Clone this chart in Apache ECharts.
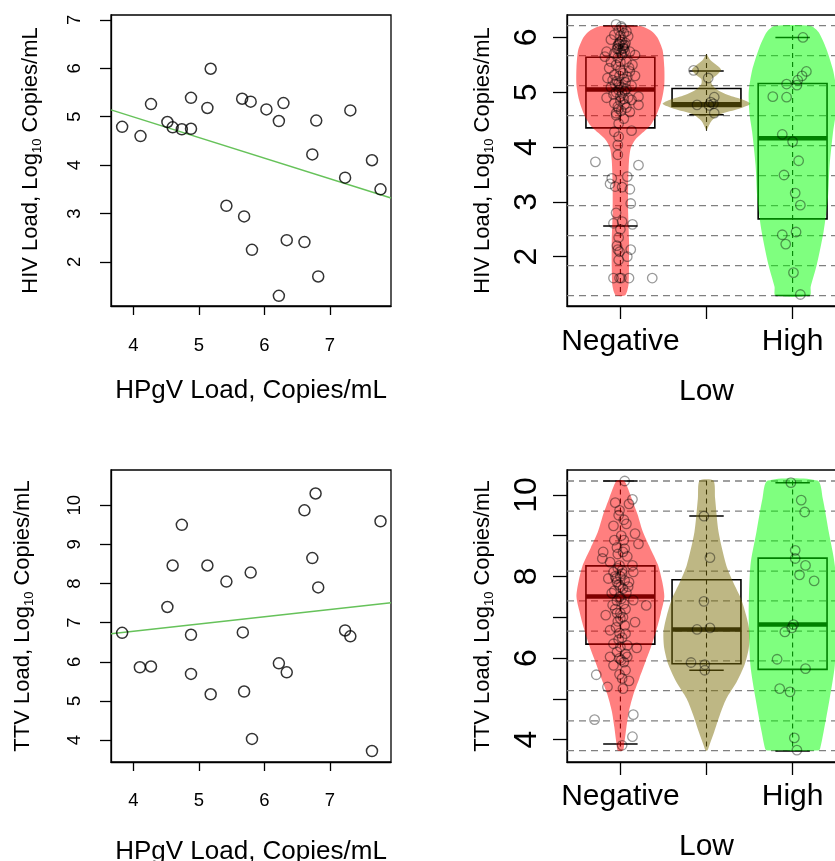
<!DOCTYPE html>
<html><head><meta charset="utf-8">
<script src="https://cdn.jsdelivr.net/npm/echarts@6/dist/echarts.min.js"></script>
<style>html,body{margin:0;padding:0;background:#fff}#c{width:835px;height:861px}</style>
</head><body><div id="c"></div><script>
// ---------------- data ----------------
const groups = ['Negative', 'Low', 'High'];

// HPgV load vs HIV load (x, y)
const hpgvHiv = [[3.83,4.79],[4.11,4.60],[4.27,5.26],[4.52,4.89],[4.60,4.78],[4.74,4.74],[4.88,4.75],[4.88,5.39],
  [5.13,5.18],[5.18,5.99],[5.42,3.16],[5.66,5.37],[5.79,5.31],[5.69,2.94],[5.81,2.25],[6.03,5.15],[6.29,5.28],
  [6.22,4.91],[6.34,2.45],[6.22,1.30],[6.61,2.41],[6.79,4.92],[6.73,4.22],[6.82,1.70],[7.23,3.74],[7.31,5.13],
  [7.64,4.10],[7.77,3.50]];
// HPgV load vs TTV load (x, y)
const hpgvTtv = [[3.83,6.74],[4.10,5.86],[4.27,5.88],[4.52,7.40],[4.60,8.46],[4.74,9.50],[4.88,6.69],[4.88,5.69],
  [5.13,8.46],[5.18,5.17],[5.42,8.05],[5.67,6.75],[5.79,8.28],[5.69,5.24],[5.81,4.03],[6.22,5.96],[6.34,5.73],
  [6.61,9.87],[6.78,10.30],[6.73,8.65],[6.82,7.90],[7.23,6.80],[7.31,6.65],[7.64,3.72],[7.77,9.59]];
// fitted regression lines [intercept, slope]
const hivFit = [6.70, -0.426];
const ttvFit = [6.04, 0.185];

// jittered points by group: [jittered group position, value]
const hivNegPts = [[0.95,6.24],[1.02,6.17],[1.07,6.11],[0.93,6.05],[1.00,6.03],[1.09,6.02],[0.89,5.96],[0.98,5.89],
  [1.05,5.86],[0.97,5.80],[1.04,5.80],[0.84,5.74],[0.93,5.71],[1.11,5.74],[1.02,5.68],[1.17,5.68],[0.82,5.65],
  [0.97,5.63],[0.89,5.56],[1.07,5.56],[1.14,5.50],[0.87,5.44],[1.00,5.41],[1.11,5.38],[0.93,5.32],[1.17,5.30],
  [0.85,5.26],[1.04,5.24],[0.98,5.16],[1.13,5.12],[0.89,5.09],[1.07,5.06],[0.95,5.00],[1.00,4.92],[1.21,4.92],
  [0.84,4.90],[1.13,4.86],[0.93,4.80],[1.05,4.78],[1.21,4.77],[0.98,4.70],[1.11,4.64],[0.95,4.58],[1.04,4.52],
  [0.98,4.43],[1.13,4.30],[0.93,4.28],[0.98,4.19],[0.97,4.04],[0.97,3.86],
  [1.00,5.92],[1.03,5.85],[0.99,5.77],[1.05,5.75],[0.97,5.85],[1.02,5.95],[1.01,5.72],[0.96,5.79],[1.06,5.90],
  [1.04,6.08],[0.98,6.13],[1.01,6.20],[1.03,5.80],[0.99,5.88],[0.99,5.30],[1.03,5.35],[0.96,5.20],[1.06,5.18],
  [1.01,5.10],[0.94,5.14],[1.08,5.28],[0.98,5.04],[1.02,4.98],[1.05,5.02],[0.92,4.96],[1.00,4.84],[1.04,4.88],
  [0.97,4.74],[1.07,4.72],[1.01,4.66],[0.95,4.62],[1.09,4.90],[0.91,5.22],[1.10,5.45],[0.95,5.50],[1.00,5.55],
  [0.71,3.73],[1.21,3.67],[0.90,3.43],[1.08,3.46],[0.88,3.33],[0.94,3.28],[1.02,3.27],[1.11,3.23],[1.12,2.97],
  [0.95,2.80],[0.92,2.61],[1.02,2.64],[1.14,2.59],[0.98,2.35],[0.97,2.13],[0.99,2.09],[1.12,2.13],[1.08,2.00],
  [0.98,1.94],[0.92,1.61],[0.99,1.61],[1.01,1.61],[1.10,1.61],[1.37,1.61],[1.00,2.50],[0.96,2.20]];
const hivLowPts = [[1.85,5.40],[2.02,5.26],[2.09,4.91],[1.89,4.77],[2.05,4.82],[2.03,4.76],[2.08,4.79],[2.09,4.62]];
const hivHighPts = [[3.12,6.00],[3.16,5.38],[3.11,5.30],[3.06,5.22],[3.05,5.13],[2.93,5.15],[2.77,4.92],[2.93,4.91],
  [2.88,4.23],[3.00,4.10],[3.07,3.75],[2.90,3.49],[3.03,3.16],[3.09,2.94],[3.04,2.45],[2.88,2.40],[2.92,2.23],
  [3.01,1.71],[3.09,1.31]];

const ttvNegPts = [[1.05,10.34],[1.14,9.89],[0.94,9.81],[1.10,9.78],[0.99,9.62],[1.04,9.39],[0.92,9.24],[1.07,9.29],
  [1.17,9.05],[1.21,8.80],[0.93,8.89],[1.04,8.89],[0.96,8.71],[1.05,8.68],[0.80,8.60],[0.79,8.44],[0.88,8.35],
  [1.08,8.49],[0.99,8.27],[1.14,8.27],[0.92,8.11],[1.02,8.07],[1.15,8.11],[0.86,7.95],[0.96,7.86],[1.10,7.86],
  [0.90,7.59],[1.00,7.74],[1.15,7.42],[1.30,7.29],[1.04,7.33],[0.83,7.05],[0.96,7.10],[1.00,6.97],[0.88,6.68],
  [0.99,6.61],[1.17,6.88],[0.92,6.35],[1.00,6.27],[1.08,6.31],[1.19,6.25],[0.88,6.03],[0.99,5.99],[1.08,6.03],
  [0.92,5.82],[1.06,5.70],[0.72,5.59],[1.02,5.50],[1.10,5.44],[0.85,5.29],[1.03,5.25],[0.70,4.49],[1.15,4.61],
  [1.14,4.07],[1.02,3.86],
  [0.97,8.20],[1.02,8.15],[1.00,8.00],[0.95,7.95],[1.05,7.90],[0.98,7.80],[1.03,7.70],[0.93,7.65],[1.07,7.60],
  [0.99,7.50],[1.01,7.45],[0.96,7.40],[1.06,7.20],[0.94,7.20],[1.00,7.10],[1.03,7.00],[0.97,6.90],[1.05,6.80],
  [0.95,6.75],[1.02,6.50],[0.98,6.45],[1.06,6.10],[0.96,6.15],[1.01,5.95],[0.99,5.60],[1.04,5.90],[0.97,8.55],
  [1.03,8.60],[1.01,9.00],[0.98,9.50],[1.06,6.60],[0.91,7.30],[1.09,7.75],[0.94,8.00]];
const ttvLowPts = [[1.97,9.48],[2.04,8.46],[1.97,7.39],[1.89,6.70],[2.04,6.74],[1.82,5.89],[1.98,5.84],[1.98,5.70]];
const ttvHighPts = [[2.98,10.30],[3.10,9.87],[3.14,9.58],[3.03,8.64],[3.03,8.44],[3.15,8.27],[3.08,8.04],[3.25,7.89],
  [3.01,6.82],[2.99,6.74],[2.91,6.64],[2.82,5.97],[3.15,5.74],[2.85,5.25],[2.97,5.17],[3.02,4.04],[3.05,3.74]];

// box statistics [min whisker, Q1, median, Q3, max whisker]
const hivBox = [[2.56,4.35,5.05,5.64,6.21],[4.59,4.74,4.78,5.07,5.39],[1.29,2.69,4.16,5.16,6.00]];
const ttvBox = [[3.89,6.34,7.51,8.26,10.34],[5.70,5.86,6.70,7.92,9.48],[3.72,5.72,6.82,8.45,10.30]];

// violin outlines [value, half width]
const hivViolin = [
  [[6.21,0.23],[6.12,0.36],[6.00,0.43],[5.77,0.49],[5.45,0.51],[5.13,0.51],[4.86,0.48],[4.59,0.42],[4.40,0.35],
   [4.25,0.25],[4.13,0.17],[3.98,0.12],[3.75,0.10],[3.30,0.09],[2.80,0.09],[2.30,0.10],[1.80,0.10],[1.50,0.095],
   [1.38,0.08],[1.29,0.05]],
  [[5.70,0.00],[5.58,0.05],[5.48,0.13],[5.41,0.17],[5.33,0.13],[5.24,0.06],[5.15,0.06],[5.05,0.12],[4.95,0.25],
   [4.86,0.43],[4.79,0.51],[4.70,0.38],[4.60,0.16],[4.48,0.06],[4.30,0.00]],
  [[6.21,0.21],[6.10,0.30],[5.80,0.39],[5.40,0.47],[5.00,0.51],[4.60,0.50],[4.28,0.47],[3.67,0.43],[3.07,0.41],
   [2.46,0.36],[1.85,0.28],[1.45,0.21],[1.29,0.20]]
];
const ttvViolin = [
  [[10.35,0.04],[10.20,0.08],[9.92,0.13],[9.52,0.20],[9.10,0.26],[8.70,0.345],[8.29,0.435],[7.88,0.485],[7.50,0.51],
   [7.10,0.47],[6.70,0.42],[6.30,0.36],[5.90,0.29],[5.50,0.22],[5.10,0.15],[4.70,0.10],[4.30,0.07],[3.90,0.045],
   [3.73,0.03]],
  [[10.35,0.08],[9.91,0.10],[9.09,0.14],[8.27,0.23],[7.86,0.31],[7.46,0.40],[7.05,0.46],[6.64,0.50],[6.23,0.49],
   [5.82,0.44],[5.41,0.35],[5.00,0.23],[4.60,0.155],[4.19,0.09],[3.90,0.04],[3.73,0.01]],
  [[10.35,0.29],[9.91,0.35],[9.09,0.42],[8.27,0.49],[7.05,0.51],[5.82,0.49],[5.00,0.43],[4.19,0.36],[3.78,0.32],
   [3.73,0.30]]
];

// dashed reference lines
const hivGridLines = [1.288,1.836,2.383,2.930,3.478,4.026,4.573,5.120,5.668,6.215];
const ttvGridLines = [3.73,4.46,5.20,5.93,6.66,7.40,8.13,8.87,9.60,10.34];

// tick values
const hpgvTicks = [4,5,6,7];
const hivScatterTicks = [2,3,4,5,6,7];
const ttvScatterTicks = [4,5,6,7,8,9,10];
const hivViolinTicks = [2,3,4,5,6];
const ttvViolinTicks = [4,5,6,7,8,9,10];
const ttvViolinLabels = [4,6,8,10];
const groupTicks = [1,2,3];
const groupOuterLabels = [1,3];   // "Low" (position 2) is printed one line lower, as in the original

// ---------------- style ----------------
const FONT = '"Liberation Sans", Arial, Helvetica, sans-serif';
const violinFill = ['rgba(255,0,0,0.5)', 'rgba(125,112,10,0.5)', 'rgba(0,255,0,0.5)'];
const BOX_HW = 0.40, CAP_HW = 0.20;
const SX = [3.66, 7.93];
const VX = [0.38, 3.62];   // symmetric about position 2, so the axis middle is the "Low" position

const grids = [
  {left:111, top:15, width:280, height:291},
  {left:567, top:15, width:279, height:291},
  {left:111, top:470, width:280, height:292},
  {left:567, top:470, width:279, height:292}
].map(g => Object.assign(g, {show:true, borderColor:'#000', borderWidth:1.3, backgroundColor:'transparent',
  containLabel:false, outerBoundsMode:'none'}));

const axLine = {show:true, onZero:false, lineStyle:{color:'#000', width:1.3}};
function tick(vals, len) { return {show:true, customValues:vals, length:len, inside:false, lineStyle:{color:'#000', width:1.3}}; }
function ylabel(vals, size, margin) { return {show:true, customValues:vals, rotate:90, fontSize:size, color:'#000', fontFamily:FONT, margin:margin, showMinLabel:true, showMaxLabel:true}; }
function yname(text, gap) {
  return {name:text, nameLocation:'middle', nameRotate:90, nameGap:gap,
    nameTextStyle:{fontSize:22, color:'#000', fontFamily:FONT, lineHeight:26,
      rich:{s:{fontSize:13, color:'#000', fontFamily:FONT, verticalAlign:'bottom', lineHeight:14}}}};
}
function groupAxis(gridIndex, margin, lowGap) {
  return {gridIndex:gridIndex, type:'value', min:VX[0], max:VX[1], splitLine:{show:false}, axisLine:axLine,
    axisTick:tick(groupTicks, 13),
    axisLabel:{customValues:groupOuterLabels, fontSize:30, lineHeight:25, color:'#000', fontFamily:FONT, margin:margin,
      showMinLabel:true, showMaxLabel:true, formatter: v => groups[Math.round(v) - 1]},
    name:groups[1], nameLocation:'middle', nameGap:lowGap,
    nameTextStyle:{fontSize:30, lineHeight:25, color:'#000', fontFamily:FONT}};
}

const xAxis = [
  {gridIndex:0, type:'value', min:SX[0], max:SX[1], splitLine:{show:false}, axisLine:axLine,
    axisTick:tick(hpgvTicks, 9), axisLabel:{customValues:hpgvTicks, fontSize:18.5, color:'#000', fontFamily:FONT, margin:30},
    name:'HPgV Load, Copies/mL', nameLocation:'middle', nameGap:72, nameTextStyle:{fontSize:26, color:'#000', fontFamily:FONT}},
  groupAxis(1, 23, 73),
  {gridIndex:2, type:'value', min:SX[0], max:SX[1], splitLine:{show:false}, axisLine:axLine,
    axisTick:tick(hpgvTicks, 9), axisLabel:{customValues:hpgvTicks, fontSize:18.5, color:'#000', fontFamily:FONT, margin:29},
    name:'HPgV Load, Copies/mL', nameLocation:'middle', nameGap:77, nameTextStyle:{fontSize:26, color:'#000', fontFamily:FONT}},
  groupAxis(3, 22, 72)
];
const yAxis = [
  Object.assign({gridIndex:0, type:'value', min:1.09, max:7.1, splitLine:{show:false}, axisLine:axLine,
    axisTick:tick(hivScatterTicks, 11), axisLabel:ylabel(hivScatterTicks, 18.5, 27)}, yname('HIV Load, Log{s|10} Copies/mL', 67)),
  Object.assign({gridIndex:1, type:'value', min:1.10, max:6.41, splitLine:{show:false}, axisLine:axLine,
    axisTick:tick(hivViolinTicks, 14), axisLabel:ylabel(hivViolinTicks, 32, 24)}, yname('HIV Load, Log{s|10} Copies/mL', 71)),
  Object.assign({gridIndex:2, type:'value', min:3.44, max:10.9, splitLine:{show:false}, axisLine:axLine,
    axisTick:tick(ttvScatterTicks, 11), axisLabel:ylabel(ttvScatterTicks, 18.5, 27)}, yname('TTV Load, Log{s|10} Copies/mL', 75)),
  Object.assign({gridIndex:3, type:'value', min:3.45, max:10.61, splitLine:{show:false}, axisLine:axLine,
    axisTick:tick(ttvViolinTicks, 14), axisLabel:ylabel(ttvViolinLabels, 32, 24)}, yname('TTV Load, Log{s|10} Copies/mL', 71))
];

function scatter(idx, data) {
  return {type:'scatter', xAxisIndex:idx, yAxisIndex:idx, data:data, symbol:'circle', symbolSize:11, silent:true, z:5,
    itemStyle:{color:'rgba(0,0,0,0)', borderColor:'#000', borderWidth:1.5}};
}
function fitLine(idx, fit) {
  return {type:'line', xAxisIndex:idx, yAxisIndex:idx, silent:true, symbol:'none', z:4,
    data: SX.map(x => [x, fit[0] + fit[1] * x]), lineStyle:{color:'#66c25a', width:1.5}};
}
function gridLineSeries(idx, values) {
  return {type:'custom', xAxisIndex:idx, yAxisIndex:idx, silent:true, z:1,
    data: values.map(v => [2, v]),
    renderItem(params, api) {
      const v = api.value(1);
      const a = api.coord([VX[0], v]), b = api.coord([VX[1], v]);
      return {type:'line', shape:{x1:a[0], y1:a[1], x2:b[0], y2:b[1]}, style:{stroke:'#808080', lineWidth:1.3, lineDash:[7,5]}};
    }};
}
function boxSeries(idx, boxes, violins) {
  return {type:'custom', xAxisIndex:idx, yAxisIndex:idx, silent:true, z:2,
    data: boxes.map((b, i) => [i + 1, b[2]]),
    renderItem(params, api) {
      const i = params.dataIndex, p = i + 1, b = boxes[i], v = violins[i];
      const c = (x, y) => api.coord([x, y]);
      const ln = (x1, y1, x2, y2, style) => { const s = c(x1, y1), e = c(x2, y2);
        return {type:'line', shape:{x1:s[0], y1:s[1], x2:e[0], y2:e[1]}, style:style}; };
      const children = [];
      children.push(ln(p, v[0][0], p, v[v.length - 1][0], {stroke:'#000', lineWidth:1.1, lineDash:[5,4]}));
      const tl = c(p - BOX_HW, b[3]), br = c(p + BOX_HW, b[1]);
      children.push({type:'rect', shape:{x:tl[0], y:tl[1], width:br[0] - tl[0], height:br[1] - tl[1]},
        style:{fill:'transparent', stroke:'#000', lineWidth:1.6}});
      children.push(ln(p - CAP_HW, b[0], p + CAP_HW, b[0], {stroke:'#000', lineWidth:1.5}));
      children.push(ln(p - CAP_HW, b[4], p + CAP_HW, b[4], {stroke:'#000', lineWidth:1.5}));
      children.push(ln(p - BOX_HW, b[2], p + BOX_HW, b[2], {stroke:'#000', lineWidth:4.5}));
      return {type:'group', children:children};
    }};
}
function violinSeries(idx, violins) {
  return {type:'custom', xAxisIndex:idx, yAxisIndex:idx, silent:true, z:3,
    data: violins.map((v, i) => [i + 1, v[0][0]]),
    renderItem(params, api) {
      const i = params.dataIndex, p = i + 1, shape = violins[i];
      const right = shape.map(([y, w]) => api.coord([p + w, y]));
      const left = shape.slice().reverse().map(([y, w]) => api.coord([p - w, y]));
      return {type:'polygon', shape:{points:right.concat(left), smooth:0.25}, style:{fill:violinFill[i], stroke:null}};
    }};
}
function jitter(idx, data) {
  return {type:'scatter', xAxisIndex:idx, yAxisIndex:idx, data:data, symbol:'circle', symbolSize:9.5, silent:true, z:5,
    itemStyle:{color:'rgba(0,0,0,0)', borderColor:'rgba(0,0,0,0.5)', borderWidth:1.3}};
}

const option = {
  animation:false,
  backgroundColor:'#fff',
  grid:grids, xAxis:xAxis, yAxis:yAxis,
  series:[
    scatter(0, hpgvHiv), fitLine(0, hivFit),
    scatter(2, hpgvTtv), fitLine(2, ttvFit),
    gridLineSeries(1, hivGridLines), boxSeries(1, hivBox, hivViolin), violinSeries(1, hivViolin),
    jitter(1, hivNegPts), jitter(1, hivLowPts), jitter(1, hivHighPts),
    gridLineSeries(3, ttvGridLines), boxSeries(3, ttvBox, ttvViolin), violinSeries(3, ttvViolin),
    jitter(3, ttvNegPts), jitter(3, ttvLowPts), jitter(3, ttvHighPts)
  ]
};
const chart = echarts.init(document.getElementById('c'));
chart.setOption(option);
</script></body></html>
